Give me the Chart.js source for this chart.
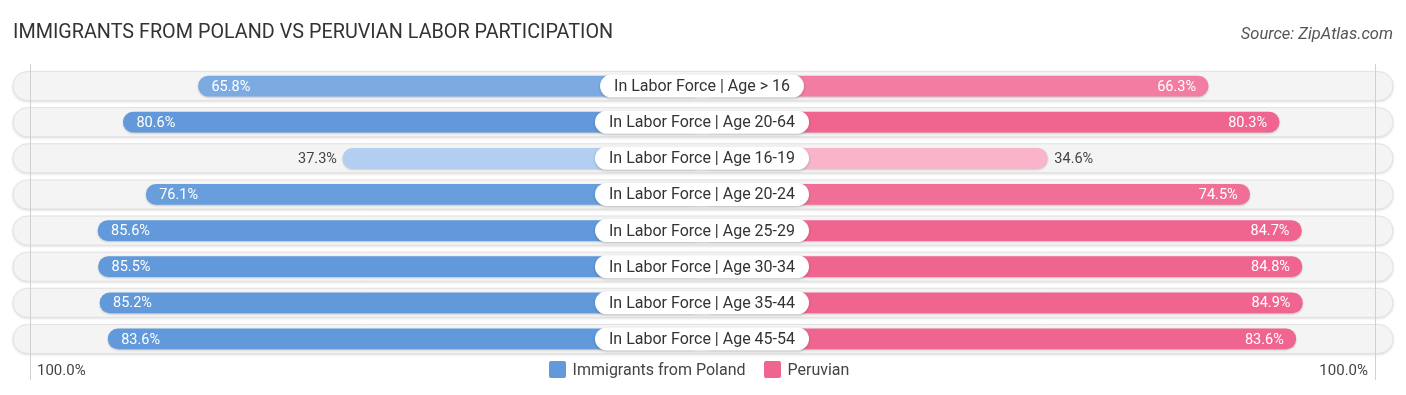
<!DOCTYPE html>
<html>
<head>
<meta charset="utf-8">
<script src="https://cdn.jsdelivr.net/npm/chart.js@4"></script>
<style>
  html, body { margin: 0; padding: 0; background: #fff; }
  body { width: 1406px; height: 395px; position: relative; overflow: hidden; font-family: Roboto, "Open Sans", sans-serif; }
  #title { position: absolute; left: 13px; top: 20px; font-size: 19.8px; color: #333; }
  #source { position: absolute; right: 13px; top: 24px; font-size: 16.5px; color: #555; font-style: italic; }
  #legend { position: absolute; left: 0; width: 1398px; top: 360px; display: flex; justify-content: center; font-size: 16px; color: #444; }
  .item { display: flex; align-items: center; margin: 0 9px; }
  .swatch { width: 17px; height: 17px; border-radius: 2px; margin-right: 7px; }
  canvas { position: absolute; left: 0; top: 0; }
</style>
</head>
<body>
<canvas id="chart" width="1406" height="395"></canvas>
<div id="title">IMMIGRANTS FROM POLAND VS PERUVIAN LABOR PARTICIPATION</div>
<div id="source">Source: ZipAtlas.com</div>
<div id="legend"></div>
<script>
// data
const categories = [
    'In Labor Force | Age > 16',
    'In Labor Force | Age 20-64',
    'In Labor Force | Age 16-19',
    'In Labor Force | Age 20-24',
    'In Labor Force | Age 25-29',
    'In Labor Force | Age 30-34',
    'In Labor Force | Age 35-44',
    'In Labor Force | Age 45-54'
];
const polandValues = [65.8, 80.6, 37.3, 76.1, 85.6, 85.5, 85.2, 83.6];
const peruvianValues = [66.3, 80.3, 34.6, 74.5, 84.7, 84.8, 84.9, 83.6];
const seriesNames = ['Immigrants from Poland', 'Peruvian'];
const axisLabels = ['100.0%', '100.0%'];

// bars start under the centre label, this is the hidden part in % units
const OFFSET = 33.5;
const blueFull = [97, 153, 218], bluePale = [182, 209, 241];
const pinkFull = [240, 101, 144], pinkPale = [249, 180, 202];

function shade(full, pale, v) {
    let t = Math.min(1, Math.max(0, (v - 35) / 45));
    const c = full.map((f, i) => Math.round(pale[i] + (f - pale[i]) * t));
    return 'rgb(' + c.join(',') + ')';
}

function roundRect(ctx, x, y, w, h, r) {
    ctx.beginPath();
    ctx.moveTo(x + r, y);
    ctx.lineTo(x + w - r, y);
    ctx.arc(x + w - r, y + r, r, -Math.PI / 2, Math.PI / 2);
    ctx.lineTo(x + r, y + h);
    ctx.arc(x + r, y + r, r, Math.PI / 2, Math.PI * 1.5);
    ctx.closePath();
}

// legend
const legendEl = document.getElementById('legend');
[[seriesNames[0], shade(blueFull, bluePale, 100)], [seriesNames[1], shade(pinkFull, pinkPale, 100)]].forEach(function(s) {
    const item = document.createElement('div');
    item.className = 'item';
    item.innerHTML = '<span class="swatch" style="background:' + s[1] + '"></span><span>' + s[0] + '</span>';
    legendEl.appendChild(item);
});

const rowsPlugin = {
    id: 'rows',
    beforeDatasetsDraw(chart) {
        const ctx = chart.ctx;
        const x = chart.scales.x, y = chart.scales.y;
        ctx.save();
        categories.forEach(function(c, i) {
            const cy = y.getPixelForValue(i);
            ctx.shadowColor = 'rgba(0,0,0,0.18)';
            ctx.shadowBlur = 3;
            ctx.shadowOffsetY = 1;
            roundRect(ctx, 13, cy - 14.5, 1380, 29, 14.5);
            ctx.fillStyle = '#f4f4f4';
            ctx.fill();
            ctx.shadowColor = 'transparent';
            ctx.strokeStyle = '#e2e2e2';
            ctx.lineWidth = 1;
            ctx.stroke();
        });
        // light guide lines near the 100% ends
        const lx = Math.round(x.getPixelForValue(-(100 + OFFSET)) + 5) + 0.5;
        const rx = Math.round(x.getPixelForValue(100 + OFFSET) - 4) + 0.5;
        ctx.strokeStyle = '#d0d0d0';
        ctx.beginPath();
        ctx.moveTo(lx, 64); ctx.lineTo(lx, 380);
        ctx.moveTo(rx, 64); ctx.lineTo(rx, 380);
        ctx.stroke();
        ctx.restore();

        // bar shadow
        ctx.save();
        ctx.shadowColor = 'rgba(0,0,0,0.2)';
        ctx.shadowBlur = 2;
        ctx.shadowOffsetY = 1;
    },
    afterDatasetsDraw(chart) {
        const ctx = chart.ctx;
        ctx.restore();
        const x = chart.scales.x, y = chart.scales.y;
        const cx = x.getPixelForValue(0);
        ctx.save();
        ctx.textBaseline = 'middle';
        categories.forEach(function(c, i) {
            const cy = y.getPixelForValue(i);
            // value labels
            ctx.font = '14.5px Roboto';
            const lv = polandValues[i], rv = peruvianValues[i];
            const lEnd = x.getPixelForValue(-(lv + OFFSET));
            const rEnd = x.getPixelForValue(rv + OFFSET);
            if (lv > 50) {
                ctx.fillStyle = '#fff'; ctx.textAlign = 'left';
                ctx.fillText(lv.toFixed(1) + '%', lEnd + 13, cy + 1);
            } else {
                ctx.fillStyle = '#444'; ctx.textAlign = 'right';
                ctx.fillText(lv.toFixed(1) + '%', lEnd - 6, cy + 1);
            }
            if (rv > 50) {
                ctx.fillStyle = '#fff'; ctx.textAlign = 'right';
                ctx.fillText(rv.toFixed(1) + '%', rEnd - 12, cy + 1);
            } else {
                ctx.fillStyle = '#444'; ctx.textAlign = 'left';
                ctx.fillText(rv.toFixed(1) + '%', rEnd + 7, cy + 1);
            }
            // centre label pill
            ctx.font = '16px Roboto';
            const w = ctx.measureText(c).width + 28;
            ctx.shadowColor = 'rgba(0,0,0,0.2)';
            ctx.shadowBlur = 3;
            ctx.shadowOffsetY = 1;
            roundRect(ctx, cx - w / 2, cy - 11.5, w, 23, 11.5);
            ctx.fillStyle = '#fff';
            ctx.fill();
            ctx.shadowColor = 'transparent';
            ctx.fillStyle = '#333';
            ctx.textAlign = 'center';
            ctx.fillText(c, cx, cy + 1);
        });
        // axis end labels
        ctx.font = '15px Roboto';
        ctx.fillStyle = '#444';
        ctx.textAlign = 'left';
        ctx.fillText(axisLabels[0], x.getPixelForValue(-(100 + OFFSET)) + 12, 371);
        ctx.textAlign = 'right';
        ctx.fillText(axisLabels[1], x.getPixelForValue(100 + OFFSET) - 11, 371);
        ctx.restore();
    }
};

new Chart(document.getElementById('chart'), {
    type: 'bar',
    data: {
        labels: categories,
        datasets: [
            {
                label: seriesNames[0],
                data: polandValues.map(v => -(v + OFFSET)),
                backgroundColor: polandValues.map(v => shade(blueFull, bluePale, v)),
                barThickness: 20,
                borderRadius: 10,
                borderSkipped: false
            },
            {
                label: seriesNames[1],
                data: peruvianValues.map(v => v + OFFSET),
                backgroundColor: peruvianValues.map(v => shade(pinkFull, pinkPale, v)),
                barThickness: 20,
                borderRadius: 10,
                borderSkipped: false
            }
        ]
    },
    options: {
        indexAxis: 'y',
        responsive: false,
        animation: false,
        layout: { padding: { left: 25, right: 27, top: 68, bottom: 38 } },
        scales: {
            x: { display: false, stacked: true, min: -(100 + OFFSET), max: 100 + OFFSET },
            y: { display: false, stacked: true }
        },
        plugins: {
            legend: { display: false },
            tooltip: { enabled: false }
        }
    },
    plugins: [rowsPlugin]
});
</script>
</body>
</html>
